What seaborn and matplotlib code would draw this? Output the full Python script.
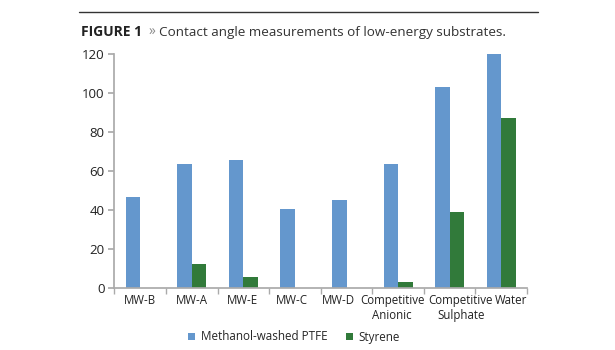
import matplotlib
matplotlib.use("Agg")
import matplotlib.pyplot as plt
import seaborn as sns
import pandas as pd
import numpy as np
from matplotlib.lines import Line2D
from matplotlib.patches import Patch

categories = ["MW-B", "MW-A", "MW-E", "MW-C", "MW-D",
              "Competitive\nAnionic", "Competitive\nSulphate", "Water"]
ptfe = [46.5, 63.5, 65.5, 40.5, 45.0, 63.5, 103.0, 120.0]
styrene = [0.0, 12.5, 5.5, 0.0, 0.0, 3.0, 39.0, 87.0]
series_names = ["Methanol-washed PTFE", "Styrene"]
colors = ["#6497CD", "#317A3A"]
yticks = [0, 20, 40, 60, 80, 100, 120]

# layout: horizontal nudges (pixels) of category labels, as in the original
label_nudge_px = [0, 0, -1, -3, -8, -6, 11, 10]

df = pd.DataFrame({
    "category": categories * 2,
    "value": ptfe + styrene,
    "series": [series_names[0]] * len(categories) + [series_names[1]] * len(categories),
})

sns.set_theme(style="white")
plt.rcParams["font.family"] = ["Open Sans", "DejaVu Sans"]

fig = plt.figure(figsize=(6.15, 3.5), dpi=100)
ax = fig.add_axes([0.186, 0.177, 0.671, 0.669])

sns.barplot(data=df, x="category", y="value", hue="series", order=categories,
            hue_order=series_names, palette=colors, saturation=1, width=0.56,
            linewidth=0, ax=ax, legend=False, errorbar=None)

ax.set_ylim(0, 120)
ax.set_xlim(-0.5, len(categories) - 0.5)
ax.set_yticks(yticks)
ax.set_yticklabels([str(v) for v in yticks], fontsize=9.5, color="#222222")
ax.set_xticks(range(len(categories)))
ax.set_xticklabels([])
ax.set_xlabel("")
ax.set_ylabel("")
for i, (cat, dx) in enumerate(zip(categories, label_nudge_px)):
    ax.annotate(cat, xy=(i, 0), xycoords=("data", "axes fraction"),
                xytext=(dx * 0.72, -4.5), textcoords="offset points",
                ha="center", va="top", fontsize=8.3, color="#222222",
                linespacing=1.2, multialignment="center")
for s in ["top", "right"]:
    ax.spines[s].set_visible(False)
ax.spines["left"].set_color("#AAAAAA")
ax.spines["bottom"].set_color("#AAAAAA")
ax.tick_params(axis="x", which="major", length=0, pad=4)
ax.tick_params(axis="y", which="major", length=4, color="#AAAAAA", pad=3, left=True)
ax.set_xticks(np.arange(-0.5, len(categories), 1.0), minor=True)
ax.tick_params(axis="x", which="minor", length=4, color="#AAAAAA", bottom=True)

# header rule
fig.add_artist(Line2D([79 / 615, 538 / 615], [1 - 12 / 350, 1 - 12 / 350],
                      color="#333333", linewidth=1.0))
t1 = fig.text(81 / 615, 1 - 36 / 350, "FIGURE 1", fontsize=10, fontweight="bold",
              color="#222222", va="baseline", ha="left")
fig.canvas.draw()
bb = t1.get_window_extent()
t2 = fig.text((bb.x1 + 6) / 615, 1 - 36 / 350, "»", fontsize=10,
              color="#888888", va="baseline", ha="left")
fig.canvas.draw()
bb2 = t2.get_window_extent()
fig.text((bb2.x1 + 4) / 615, 1 - 36 / 350,
         "Contact angle measurements of low-energy substrates.",
         fontsize=9.7, color="#333333", va="baseline", ha="left")

handles = [Patch(facecolor=c, edgecolor="none") for c in colors]
fig.legend(handles, series_names, loc="center", bbox_to_anchor=(0.478, 1 - 337 / 350),
           ncol=2, frameon=False, fontsize=8.4, handlelength=0.6, handleheight=0.6,
           handletextpad=0.45, columnspacing=1.6)

fig.savefig("out.png", dpi=100)
